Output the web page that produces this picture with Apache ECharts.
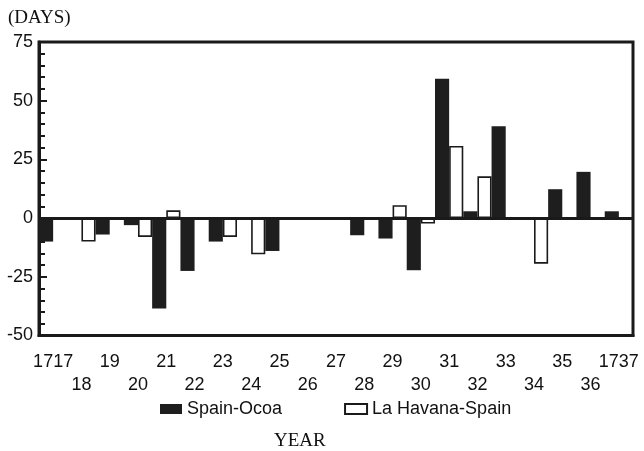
<!DOCTYPE html>
<html>
<head>
<meta charset="utf-8">
<script src="https://cdn.jsdelivr.net/npm/echarts@6/dist/echarts.min.js"></script>
<style>html,body{margin:0;padding:0;background:#fff;}#chart{width:644px;height:451px;}</style>
</head>
<body>
<div id="chart"></div>
<script>
var years = ['1717','1718','1719','1720','1721','1722','1723','1724','1725','1726','1727','1728','1729','1730','1731','1732','1733','1734','1735','1736','1737'];
var tickLabels = ['1717','18','19','20','21','22','23','24','25','26','27','28','29','30','31','32','33','34','35','36','1737'];
var spainOcoa = [-10, 0, -7, -3, -38.5, -22.5, -10, 0, -14, 0, 0, -7.3, -8.7, -22.2, 59.4, 2.9, 39.1, 0, 12.3, 19.7, 2.9];
var havanaSpain = [0, -10, 0, -8, 3.3, 0, -8, -15.4, 0, 0, 0, 0, 5.5, -2.3, 30.7, 17.8, 0, -19.4, 0, 0, 0];
var yTicks = [-50, -25, 0, 25, 50, 75];

var SANS = '"Liberation Sans", Arial, Helvetica, sans-serif';
var SERIF = '"Liberation Serif", "Times New Roman", serif';
var chart = echarts.init(document.getElementById('chart'));
chart.setOption({
  animation: false,
  backgroundColor: '#fff',
  grid: {left: 39, right: 11, top: 42, bottom: 115.5, show: true, borderColor: '#1a1a1a', borderWidth: 3},
  legend: {
    left: 155, top: 395, icon: 'rect', itemWidth: 22, itemHeight: 10, itemGap: 62,
    textStyle: {fontFamily: SANS, fontSize: 18, color: '#111'},
    data: ['Spain-Ocoa', 'La Havana-Spain']
  },
  graphic: [
    {type: 'text', left: 8, top: 9, style: {text: '(DAYS)', font: '19px ' + SERIF, fill: '#111'}},
    {type: 'text', left: 274, top: 432, style: {text: 'YEAR', font: '19px ' + SERIF, fill: '#111'}}
  ],
  xAxis: {
    type: 'category', data: years,
    axisLine: {onZero: false, lineStyle: {color: '#1a1a1a', width: 3}},
    axisTick: {show: false},
    axisLabel: {
      interval: 0, margin: 15, lineHeight: 23, fontFamily: SANS, fontSize: 18, color: '#111',
      formatter: function (v, i) { return (i % 2 === 1 ? '\n' : '') + tickLabels[i]; }
    }
  },
  yAxis: {
    type: 'value', min: yTicks[0], max: yTicks[yTicks.length - 1], interval: 25,
    axisLine: {show: true, lineStyle: {color: '#1a1a1a', width: 3}},
    axisTick: {show: true, inside: true, length: 8, lineStyle: {color: '#1a1a1a', width: 2}},
    minorTick: {show: true, splitNumber: 5, length: 6, lineStyle: {color: '#1a1a1a', width: 2}},
    splitLine: {show: false},
    axisLabel: {margin: 6, fontFamily: SANS, fontSize: 18, color: '#111'}
  },
  series: [
    {
      name: 'Spain-Ocoa', type: 'bar', data: spainOcoa, barGap: '0%', barCategoryGap: '0%',
      itemStyle: {color: '#1e1e1e'},
      markLine: {silent: true, symbol: ['none', 'none'], label: {show: false},
        lineStyle: {color: '#1a1a1a', width: 3, type: 'solid'}, data: [{yAxis: 0}]}
    },
    {
      name: 'La Havana-Spain', type: 'bar', data: havanaSpain,
      itemStyle: {color: '#fff', borderColor: '#1a1a1a', borderWidth: 1.6}
    }
  ]
});
</script>
</body>
</html>
